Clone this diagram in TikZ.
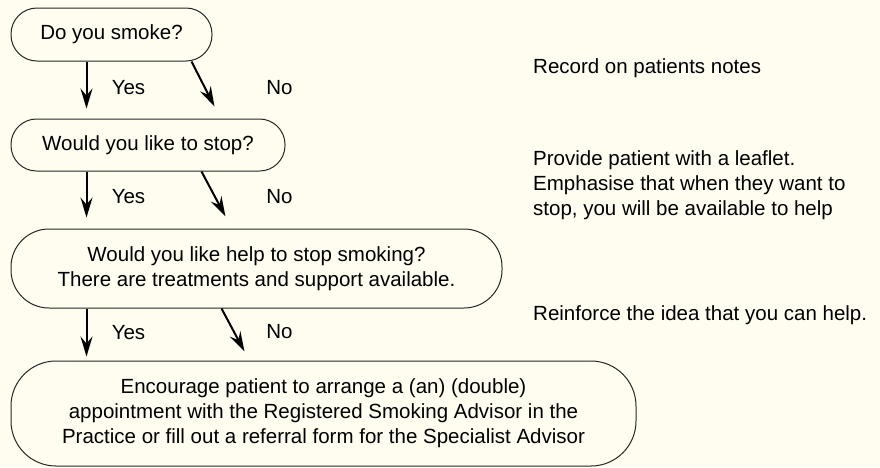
\documentclass[tikz,border=0pt]{standalone}
\usepackage{fontspec}
\setmainfont{Liberation Sans}
\usetikzlibrary{arrows.meta}
\definecolor{paper}{HTML}{FFFDF0}

\begin{document}
\begin{tikzpicture}[node distance=110pt, font=\fontsize{20.5}{25}\selectfont]

    \tikzstyle{question} = [rectangle, draw=black!85, line width=1pt, align=center, inner sep=0pt]
    \tikzstyle{note} = [anchor=west, align=left, inner sep=0pt]
    \tikzstyle{answer} = [inner sep=0pt]
    \tikzstyle{arrow} = [line width=2pt, -{Stealth[length=20pt, width=12pt, inset=7pt]}]

    % Hintergrund und Bildgroesse
    \fill [paper] (0pt,0pt) rectangle (880pt,-467pt);
    \useasboundingbox (0pt,0pt) rectangle (880pt,-467pt);

    % node[Optionen](Name){Inhalt}
    \node (Smoke) [question, minimum width=201pt, minimum height=53pt, rounded corners=26pt] at (111.5pt,-34.5pt) {Do you smoke?};
    \node (Stop) [question, minimum width=274pt, minimum height=52pt, rounded corners=25.5pt, below of=Smoke, xshift=36.5pt, yshift=-0.5pt] {Would you like to stop?};
    \node (Help) [question, minimum width=491pt, minimum height=79pt, rounded corners=38pt, below of=Stop, xshift=108.5pt, yshift=-13.5pt] {Would you like help to stop smoking?\\There are treatments and support available.};
    \node (Advisor) [question, minimum width=625pt, minimum height=105pt, rounded corners=45pt, below of=Help, xshift=67pt, yshift=-35pt] {Encourage patient to arrange a (an) (double)\\appointment with the Registered Smoking Advisor in the\\Practice or fill out a referral form for the Specialist Advisor};

    \node (Record) [note] at (533pt,-68pt) {Record on patients notes};
    \node (Leaflet) [note] at (533pt,-185pt) {Provide patient with a leaflet.\\Emphasise that when they want to\\stop, you will be available to help};
    \node (Reinforce) [note] at (533pt,-315pt) {Reinforce the idea that you can help.};

    % ----- ----- ----- ----- ----- ----- ----- ----- ----- ----- ----- ----- ----- ----- -----

    \draw [arrow] ([xshift=76pt]Smoke.south west) -- node[answer, xshift=42pt, yshift=-2.5pt] {Yes} ([xshift=76pt, yshift=10pt]Stop.north west);
    \draw [arrow] ([xshift=181pt]Smoke.south west) -- node[answer, xshift=76.5pt, yshift=-4pt] {No} ([xshift=204pt, yshift=12pt]Stop.north west);
    \draw [arrow] ([xshift=76pt]Stop.south west) -- node[answer, xshift=42pt, yshift=-2.5pt] {Yes} ([xshift=76pt, yshift=11pt]Help.north west);
    \draw [arrow] ([xshift=191pt]Stop.south west) -- node[answer, xshift=66pt, yshift=-3pt] {No} ([xshift=215pt, yshift=12pt]Help.north west);
    \draw [arrow] ([xshift=76pt]Help.south west) -- node[answer, xshift=42pt] {Yes} ([xshift=76pt, yshift=4pt]Advisor.north west);
    \draw [arrow] ([xshift=211pt]Help.south west) -- node[answer, xshift=46.5pt, yshift=-2pt] {No} ([xshift=234pt, yshift=9pt]Advisor.north west);
\end{tikzpicture}
\end{document}
